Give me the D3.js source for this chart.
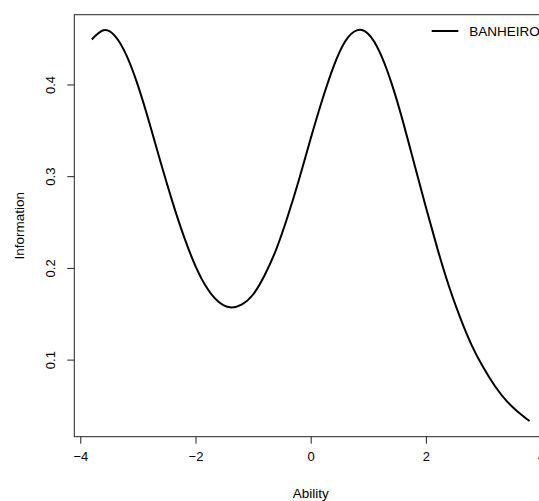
<!DOCTYPE html>
<html lang="en">
<head>
<meta charset="utf-8">
<title>Information curve</title>
<script src="https://d3js.org/d3.v7.min.js"></script>
<style>
  body { margin: 0; background: #fff; }
  svg { display: block; font-family: "Liberation Sans", Arial, Helvetica, sans-serif; }
</style>
</head>
<body>
<script>
var width = 539,
    height = 501;

// ability grid and item information
var ability = [-3.8, -3.6, -3.4, -3.2, -3.0, -2.8, -2.6, -2.4, -2.2, -2.0,
               -1.8, -1.6, -1.4, -1.2, -1.0, -0.8, -0.6, -0.4, -0.2, 0.0,
               0.2, 0.4, 0.6, 0.8, 1.0, 1.2, 1.4, 1.6, 1.8, 2.0,
               2.2, 2.4, 2.6, 2.8, 3.0, 3.2, 3.4, 3.6, 3.8];
var information = [0.449, 0.459, 0.453, 0.432, 0.399, 0.358, 0.314, 0.272, 0.234, 0.202,
                   0.178, 0.163, 0.157, 0.160, 0.171, 0.192, 0.220, 0.256, 0.297, 0.341,
                   0.383, 0.420, 0.447, 0.459, 0.455, 0.435, 0.402, 0.360, 0.313, 0.266,
                   0.221, 0.180, 0.145, 0.115, 0.091, 0.071, 0.055, 0.043, 0.033];
var xTicks = [-4, -2, 0, 2, 4];
var yTicks = [0.1, 0.2, 0.3, 0.4];
var seriesName = "BANHEIRO";

// plot region (right edge falls outside the picture, as in the original)
var plotLeft = 74.3, plotTop = 14.7, plotRight = 547.1, plotBottom = 436.7;

// R-style 4% padding on the data range
function pad(ext) {
  var d = (ext[1] - ext[0]) * 0.04;
  return [ext[0] - d, ext[1] + d];
}

var x = d3.scaleLinear().domain(pad(d3.extent(ability))).range([plotLeft, plotRight]);
var y = d3.scaleLinear().domain(pad(d3.extent(information))).range([plotBottom, plotTop]);

var data = ability.map(function(a, i) { return {a: a, v: information[i]}; });

var svg = d3.select("body").append("svg")
    .attr("width", width)
    .attr("height", height);

// box
svg.append("rect")
    .attr("x", plotLeft).attr("y", plotTop)
    .attr("width", plotRight - plotLeft).attr("height", plotBottom - plotTop)
    .style("fill", "none")
    .style("stroke", "#222")
    .style("stroke-width", 1);

// axes
var xAxis = svg.append("g")
    .attr("transform", "translate(0," + plotBottom + ")")
    .call(d3.axisBottom(x).tickValues(xTicks).tickSize(7).tickPadding(8)
      .tickFormat(function(d) { return d < 0 ? "\u2212" + Math.abs(d) : d; }));
xAxis.select(".domain").remove();
xAxis.selectAll("line").style("stroke", "#222");
xAxis.selectAll("text")
    .style("font-size", "13px")
    .style("fill", "#000")
    .attr("dy", "0.71em");

var yAxis = svg.append("g")
    .attr("transform", "translate(" + plotLeft + ",0)")
    .call(d3.axisLeft(y).tickValues(yTicks).tickSize(7).tickFormat(d3.format(".1f")));
yAxis.select(".domain").remove();
yAxis.selectAll("line").style("stroke", "#222");
yAxis.selectAll("text")
    .attr("x", 0).attr("y", 0).attr("dy", null)
    .attr("text-anchor", "middle")
    .attr("transform", "translate(-19.5,0) rotate(-90)")
    .style("font-size", "13px")
    .style("fill", "#000");

// axis titles
svg.append("text")
    .attr("x", x(0))
    .attr("y", 498)
    .attr("text-anchor", "middle")
    .style("font-size", "13.5px")
    .text("Ability");

svg.append("text")
    .attr("transform", "translate(23.5," + ((plotTop + plotBottom) / 2) + ") rotate(-90)")
    .attr("text-anchor", "middle")
    .style("font-size", "13.5px")
    .text("Information");

// information curve
var line = d3.line()
    .x(function(d) { return x(d.a); })
    .y(function(d) { return y(d.v); })
    .curve(d3.curveNatural);

svg.append("path")
    .datum(data)
    .attr("d", line)
    .style("fill", "none")
    .style("stroke", "#000")
    .style("stroke-width", 2);

// legend
var legend = svg.append("g").attr("transform", "translate(431.7,31)");
legend.append("line")
    .attr("x1", 0).attr("x2", 26.6)
    .style("stroke", "#000")
    .style("stroke-width", 2);
legend.append("text")
    .attr("x", 37.6)
    .attr("dy", "0.36em")
    .style("font-size", "13.5px")
    .text(seriesName);
</script>
</body>
</html>
